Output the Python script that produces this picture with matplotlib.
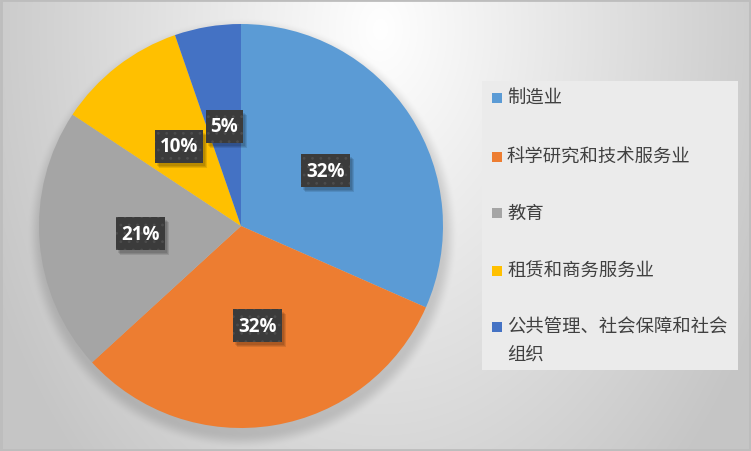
import numpy as np
import matplotlib
matplotlib.use("Agg")
import matplotlib.pyplot as plt
from matplotlib.patches import Rectangle
from matplotlib.transforms import Affine2D, ScaledTranslation

plt.rcParams['font.family'] = ['Noto Sans CJK SC', 'DejaVu Sans']
plt.rcParams['hatch.linewidth'] = 0.8

categories = ["制造业", "科学研究和技术服务业", "教育", "租赁和商务服务业", "公共管理、社会保障和社会\n组织"]
values = [31.6, 31.6, 21.1, 10.4, 5.3]
colors = ["#5B9BD5", "#ED7D31", "#A5A5A5", "#FFC000", "#4472C4"]

W, H = 751, 452
fig = plt.figure(figsize=(W / 100, H / 100), dpi=100)

# background radial gradient with soft pie shadow
bg = fig.add_axes([0, 0, 1, 1], zorder=0)
yy, xx = np.mgrid[0:H, 0:W].astype(float)
d = np.sqrt(((xx - 380) / 430) ** 2 + ((yy - 30) / 620) ** 2)
g = 255 - 58 * np.clip(d, 0, 1)
cx, cy, R = 242, 234, 202
r = np.sqrt((xx - cx) ** 2 + (yy - cy) ** 2)
t = np.clip((R + 14 - r) / 16, 0, 1)
sh = 0.14 * t * t * (3 - 2 * t)
g = g * (1 - sh)
img = np.dstack([g, g, g]) / 255.0
bg.imshow(img, extent=[0, W, H, 0], aspect='auto', interpolation='bilinear')
bg.set_xlim(0, W)
bg.set_ylim(H, 0)
bg.axis('off')
bg.add_patch(Rectangle((0.5, 0.5), W - 1.5, H - 1.5, fill=False, edgecolor='#bdbdbd', lw=2))

# legend
bg.add_patch(Rectangle((482, 82), 256, 289, facecolor='#ebebeb', edgecolor='none'))
leg_y = [99, 158, 214, 272, 328]
for cat, col, y in zip(categories, colors, leg_y):
    bg.add_patch(Rectangle((492, y - 5), 10, 10, facecolor=col, edgecolor='none'))
    for k, line in enumerate(cat.split('\n')):
        bg.text(507, y + 27 * k, line, fontsize=13.2, color='#404040', va='center', ha='left')

# pie
pcx, pcy, pr = 241, 227, 202
ax = fig.add_axes([(pcx - pr) / W, (H - pcy - pr) / H, 2 * pr / W, 2 * pr / H], zorder=1)
wedges, _, autotexts = ax.pie(values, colors=colors, startangle=90, counterclock=False,
                              radius=1, center=(0, 0), autopct='%1.0f%%', pctdistance=0.5,
                              wedgeprops=dict(linewidth=0), frame=False)
ax.set_xlim(-1, 1)
ax.set_ylim(-1, 1)
ax.set_aspect('auto')
ax.axis('off')

for at in autotexts:
    x, y = at.get_position()
    s = at.get_text()
    at.set_visible(False)
    bw = 14 + 11.5 * len(s)
    bh = 33
    tr = Affine2D() + ScaledTranslation(x, y, ax.transData)
    # soft shadow
    for k, a in enumerate([0.10, 0.10, 0.10]):
        sp = Rectangle((-bw / 2 + 2 + k, -bh / 2 - 3 - k), bw, bh, transform=tr,
                       facecolor='black', alpha=a, edgecolor='none', zorder=2.9)
        ax.add_patch(sp)
    box = Rectangle((-bw / 2, -bh / 2), bw, bh, transform=tr, facecolor='#3b3b3b',
                    edgecolor='#4c4c4c', hatch='..', linewidth=0, zorder=3)
    ax.add_patch(box)
    ax.text(x, y, s, ha='center', va='center', fontsize=13.5, fontweight='bold',
            family='Open Sans', color='white', zorder=4)

fig.savefig('out.png', dpi=100)
